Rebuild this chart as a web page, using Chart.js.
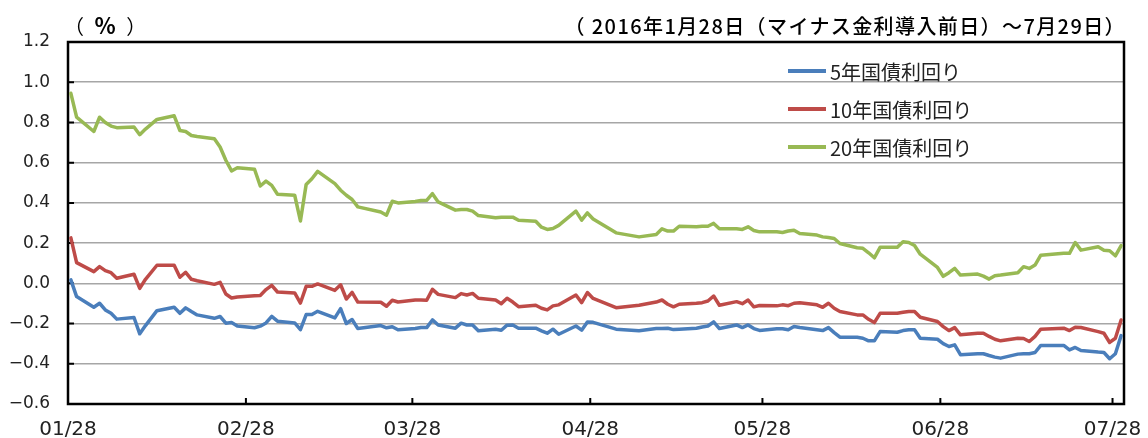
<!DOCTYPE html>
<html>
<head>
<meta charset="utf-8">
<script src="https://cdn.jsdelivr.net/npm/chart.js@4.4.1/dist/chart.umd.min.js"></script>
<style>
  html, body { margin: 0; padding: 0; background: #fff; }
  #wrap { position: relative; width: 1148px; height: 438px; font-family: "Noto Sans CJK JP", sans-serif; }
  #unit { position: absolute; left: 64px; top: 9px; font-size: 20px; line-height: 30px; color: #000; letter-spacing: 3px; }
  #unit b { font-size: 22px; }
  #period { position: absolute; right: 22px; top: 11px; font-size: 20px; line-height: 30px; color: #000; font-weight: 500; letter-spacing: 1.4px; }
</style>
</head>
<body>
<div id="wrap">
  <canvas id="yieldChart" width="1148" height="438"></canvas>
  <div id="unit">（ <b>%</b> ）</div>
  <div id="period">（ 2016年1月28日（マイナス金利導入前日）～7月29日）</div>
</div>
<script>
// business days, 2016
const dates = [
  '1/28','1/29',
  '2/1','2/2','2/3','2/4','2/5','2/8','2/9','2/10','2/12','2/15','2/16','2/17','2/18','2/19','2/22','2/23','2/24','2/25','2/26','2/29',
  '3/1','3/2','3/3','3/4','3/7','3/8','3/9','3/10','3/11','3/14','3/15','3/16','3/17','3/18','3/22','3/23','3/24','3/25','3/28','3/29','3/30','3/31',
  '4/1','4/4','4/5','4/6','4/7','4/8','4/11','4/12','4/13','4/14','4/15','4/18','4/19','4/20','4/21','4/22','4/25','4/26','4/27','4/28',
  '5/2','5/6','5/9','5/10','5/11','5/12','5/13','5/16','5/17','5/18','5/19','5/20','5/23','5/24','5/25','5/26','5/27','5/30','5/31',
  '6/1','6/2','6/3','6/6','6/7','6/8','6/9','6/10','6/13','6/14','6/15','6/16','6/17','6/20','6/21','6/22','6/23','6/24','6/27','6/28','6/29','6/30',
  '7/1','7/4','7/5','7/6','7/7','7/8','7/11','7/12','7/13','7/14','7/15','7/19','7/20','7/21','7/22','7/25','7/26','7/27','7/28','7/29'
];

const yield5 = [
  0.017, -0.066,
  -0.119, -0.099, -0.132, -0.149, -0.178, -0.170, -0.251, -0.210, -0.136, -0.119, -0.149, -0.122, -0.140, -0.157, -0.174, -0.165, -0.198, -0.195, -0.212, -0.221,
  -0.213, -0.197, -0.164, -0.188, -0.197, -0.230, -0.155, -0.155, -0.139, -0.172, -0.126, -0.200, -0.180, -0.225, -0.210, -0.221, -0.216, -0.231, -0.225, -0.220, -0.220, -0.182,
  -0.207, -0.223, -0.198, -0.207, -0.207, -0.236, -0.228, -0.233, -0.208, -0.207, -0.223, -0.223, -0.236, -0.248, -0.228, -0.253, -0.212, -0.233, -0.192, -0.194,
  -0.228, -0.236, -0.225, -0.225, -0.223, -0.230, -0.228, -0.223, -0.217, -0.212, -0.192, -0.225, -0.207, -0.220, -0.207, -0.225, -0.234, -0.226, -0.226,
  -0.231, -0.215, -0.220, -0.231, -0.235, -0.220, -0.245, -0.268, -0.268, -0.273, -0.286, -0.286, -0.240, -0.243, -0.235, -0.231, -0.231, -0.273, -0.278, -0.300, -0.314, -0.306,
  -0.355, -0.350, -0.350, -0.359, -0.367, -0.372, -0.352, -0.350, -0.350, -0.344, -0.309, -0.309, -0.331, -0.319, -0.334, -0.342, -0.344, -0.375, -0.350, -0.260
];

const yield10 = [
  0.226, 0.103,
  0.058, 0.083, 0.063, 0.053, 0.025, 0.045, -0.025, 0.020, 0.090, 0.090, 0.030, 0.055, 0.020, 0.013, -0.005, 0.005, -0.053, -0.073, -0.068, -0.062,
  -0.060, -0.031, -0.010, -0.043, -0.048, -0.098, -0.015, -0.015, -0.003, -0.035, -0.007, -0.078, -0.045, -0.093, -0.094, -0.114, -0.084, -0.093, -0.083, -0.083, -0.084, -0.030,
  -0.055, -0.071, -0.051, -0.058, -0.050, -0.074, -0.083, -0.101, -0.074, -0.093, -0.116, -0.109, -0.124, -0.132, -0.112, -0.107, -0.058, -0.096, -0.046, -0.075,
  -0.121, -0.109, -0.093, -0.083, -0.104, -0.117, -0.104, -0.099, -0.096, -0.088, -0.063, -0.109, -0.091, -0.101, -0.083, -0.117, -0.110, -0.112, -0.107,
  -0.111, -0.099, -0.096, -0.107, -0.119, -0.099, -0.124, -0.140, -0.157, -0.157, -0.179, -0.195, -0.149, -0.149, -0.144, -0.140, -0.140, -0.169, -0.190, -0.215, -0.235, -0.220,
  -0.256, -0.248, -0.248, -0.264, -0.278, -0.286, -0.273, -0.274, -0.289, -0.264, -0.228, -0.223, -0.235, -0.218, -0.220, -0.240, -0.248, -0.294, -0.273, -0.182
];

const yield20 = [
  0.945, 0.826,
  0.755, 0.826, 0.800, 0.782, 0.774, 0.777, 0.739, 0.767, 0.815, 0.833, 0.760, 0.755, 0.735, 0.730, 0.719, 0.678, 0.612, 0.559, 0.575, 0.567,
  0.484, 0.508, 0.487, 0.443, 0.438, 0.310, 0.492, 0.520, 0.557, 0.496, 0.463, 0.438, 0.417, 0.380, 0.355, 0.339, 0.408, 0.400, 0.407, 0.412, 0.413, 0.446,
  0.405, 0.364, 0.367, 0.367, 0.359, 0.337, 0.326, 0.329, 0.329, 0.329, 0.314, 0.309, 0.279, 0.268, 0.273, 0.288, 0.359, 0.314, 0.350, 0.320,
  0.251, 0.231, 0.243, 0.271, 0.260, 0.260, 0.284, 0.281, 0.284, 0.284, 0.298, 0.271, 0.271, 0.268, 0.281, 0.263, 0.256, 0.256, 0.253,
  0.260, 0.264, 0.248, 0.240, 0.231, 0.228, 0.223, 0.198, 0.177, 0.174, 0.152, 0.127, 0.179, 0.179, 0.207, 0.203, 0.188, 0.145, 0.079, 0.035, 0.053, 0.074,
  0.041, 0.046, 0.036, 0.021, 0.038, 0.041, 0.053, 0.083, 0.074, 0.091, 0.140, 0.149, 0.149, 0.203, 0.165, 0.182, 0.165, 0.162, 0.137, 0.188
];

const seriesNames = ['5年国債利回り', '10年国債利回り', '20年国債利回り'];
const seriesColors = ['#4a7ebb', '#be4b48', '#98b954'];
const tickDates = ['01/28', '02/28', '03/28', '04/28', '05/28', '06/28', '07/28'];

// day offset from 1/28 (date axis, one slot per calendar day)
const startDate = Date.UTC(2016, 0, 28);
function dayOf(md) {
  const parts = md.split('/').map(Number);
  return Math.round((Date.UTC(2016, parts[0] - 1, parts[1]) - startDate) / 86400000);
}
const lastDay = dayOf('7/29') + 1;

function toPoints(values) {
  return values.map((v, i) => ({ x: dayOf(dates[i]) + 0.5, y: v }));
}

Chart.defaults.font.family = '"Noto Sans CJK JP", sans-serif';
Chart.defaults.color = '#000';

// frame, inside tick marks and the in-plot legend
const framePlugin = {
  id: 'frame',
  beforeDatasetsDraw(chart) {
    const ctx = chart.ctx;
    const a = chart.chartArea;
    const x = chart.scales.x;
    const y = chart.scales.y;
    ctx.save();
    ctx.strokeStyle = '#000';
    ctx.lineWidth = 2;
    ctx.beginPath();
    tickDates.forEach(t => {
      const px = x.getPixelForValue(dayOf(t));
      ctx.moveTo(px, a.bottom);
      ctx.lineTo(px, a.bottom - 6);
    });
    y.ticks.forEach(t => {
      const py = y.getPixelForValue(t.value);
      ctx.moveTo(a.left, py);
      ctx.lineTo(a.left + 6, py);
    });
    ctx.stroke();
    ctx.lineWidth = 2.5;
    ctx.strokeRect(a.left, a.top, a.right - a.left, a.bottom - a.top);
    ctx.restore();
  },
  afterDraw(chart) {
    const ctx = chart.ctx;
    const a = chart.chartArea;
    ctx.save();
    ctx.font = '20px "Noto Sans CJK JP", sans-serif';
    ctx.textBaseline = 'middle';
    ctx.fillStyle = '#222';
    chart.data.datasets.forEach((ds, i) => {
      const ly = a.top + 29 + i * 38;
      ctx.strokeStyle = ds.borderColor;
      ctx.lineWidth = 4;
      ctx.beginPath();
      ctx.moveTo(788, ly);
      ctx.lineTo(826, ly);
      ctx.stroke();
      ctx.fillText(ds.label, 830, ly + 1);
    });
    ctx.restore();
  }
};

new Chart(document.getElementById('yieldChart'), {
  type: 'line',
  data: {
    datasets: [
      { label: seriesNames[0], data: toPoints(yield5), borderColor: seriesColors[0] },
      { label: seriesNames[1], data: toPoints(yield10), borderColor: seriesColors[1] },
      { label: seriesNames[2], data: toPoints(yield20), borderColor: seriesColors[2] }
    ]
  },
  options: {
    responsive: false,
    animation: false,
    layout: { padding: { top: 42, right: 24, left: 0, bottom: 0 } },
    elements: {
      point: { radius: 0 },
      line: { borderWidth: 3.5, tension: 0, fill: false, borderCapStyle: 'round', borderJoinStyle: 'round' }
    },
    plugins: { legend: { display: false }, tooltip: { enabled: false } },
    scales: {
      x: {
        type: 'linear',
        min: 0,
        max: lastDay,
        afterBuildTicks: scale => { scale.ticks = tickDates.map(t => ({ value: dayOf(t) })); },
        afterFit: scale => { scale.height = 34; },
        ticks: {
          autoSkip: false,
          maxRotation: 0,
          padding: 6,
          font: { family: '"DejaVu Sans", sans-serif', size: 20 },
          color: '#222',
          callback: (value, index) => tickDates[index]
        },
        grid: { display: false },
        border: { display: false }
      },
      y: {
        min: -0.6,
        max: 1.2,
        afterFit: scale => { scale.width = 68; },
        ticks: {
          stepSize: 0.2,
          padding: 18,
          font: { family: '"DejaVu Sans", sans-serif', size: 17 },
          color: '#222',
          callback: value => value.toFixed(1).replace('-', '−')
        },
        grid: { color: '#a6a6a6', lineWidth: 1.5, drawTicks: false },
        border: { display: false }
      }
    }
  },
  plugins: [framePlugin]
});
</script>
</body>
</html>
